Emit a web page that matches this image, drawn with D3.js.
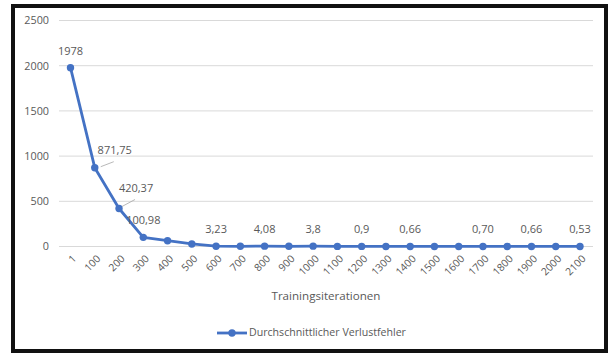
<!DOCTYPE html>
<html><head><meta charset="utf-8">
<script src="https://cdn.jsdelivr.net/npm/d3@7"></script>
<style>
html,body{margin:0;padding:0;background:#fff;}
svg{display:block;}
text{font-family:"Open Sans","Noto Sans",sans-serif;fill:#595959;}
</style></head>
<body>
<svg id="c" width="608" height="353"></svg>
<script>
const categories = ["1","100","200","300","400","500","600","700","800","900","1000","1100","1200","1300","1400","1500","1600","1700","1800","1900","2000","2100"];
const values = [1978, 871.75, 420.37, 100.98, 64, 28, 3.23, 2, 4.08, 2, 3.8, 1, 0.9, 0.8, 0.66, 0.7, 0.7, 0.70, 0.68, 0.66, 0.6, 0.53];
const labels = ["1978","871,75","420,37","100,98",null,null,"3,23",null,"4,08",null,"3,8",null,"0,9",null,"0,66",null,null,"0,70",null,"0,66",null,"0,53"];
const yTicks = [0, 500, 1000, 1500, 2000, 2500];
const seriesName = "Durchschnittlicher Verlustfehler";
const xTitle = "Trainingsiterationen";

const svg = d3.select("#c");
const blue = "#4472C4";

// frame
svg.append("rect").attr("x",13).attr("y",6).attr("width",593).attr("height",345)
  .attr("fill","none").attr("stroke","#111").attr("stroke-width",4);

const x = d3.scalePoint().domain(categories).range([70.5, 580]);
const y = d3.scaleLinear().domain([0, 2500]).range([246.5, 20.5]);
const gx0 = 59, gx1 = 593;

// gridlines
svg.append("g").selectAll("line").data(yTicks).join("line")
  .attr("x1",gx0).attr("x2",gx1).attr("y1",d=>y(d)).attr("y2",d=>y(d))
  .attr("stroke","#d9d9d9").attr("stroke-width",1);

// y axis labels
const yAxis = d3.axisLeft(y).tickValues(yTicks).tickSize(0).tickPadding(0).tickFormat(d3.format("d"));
const ya = svg.append("g").attr("transform",`translate(${gx0-10},0)`).call(yAxis);
ya.select(".domain").remove();
ya.selectAll("text").attr("font-size",10.8).style("font-family",'"Open Sans","Noto Sans",sans-serif').attr("fill","#595959");

// x axis labels
const xAxis = d3.axisBottom(x).tickSize(0).tickPadding(0);
const xa = svg.append("g").attr("transform",`translate(0,${y(0)})`).call(xAxis);
xa.select(".domain").remove();
xa.selectAll("text")
  .attr("font-size",10.3)
  .style("font-family",'"Open Sans","Noto Sans",sans-serif')
  .attr("fill","#595959")
  .attr("text-anchor","end")
  .attr("dy",null).attr("y",null)
  .attr("transform","translate(4,11) rotate(-45)")
  .attr("dominant-baseline","middle");

// x title
svg.append("text").attr("x",(gx0+gx1)/2).attr("y",297).attr("text-anchor","middle")
  .attr("dominant-baseline","middle").attr("font-size",11.6).text(xTitle);

// line
const data = categories.map((c,i)=>({c, v: values[i], l: labels[i], i}));
svg.append("path").datum(data)
  .attr("d", d3.line().x(d=>x(d.c)).y(d=>y(d.v)))
  .attr("fill","none").attr("stroke",blue).attr("stroke-width",2.8).attr("stroke-linejoin","round");
svg.append("g").selectAll("circle").data(data).join("circle")
  .attr("cx",d=>x(d.c)).attr("cy",d=>y(d.v)).attr("r",3.7).attr("fill",blue);

// data labels
const special = {1:{dx:20,dy:-17,lead:[[6,-1],[19,-6]]}, 2:{dx:17,dy:-19,lead:[[3,-2],[16,-9]]}};
const lg = svg.append("g");
data.filter(d=>d.l).forEach(d=>{
  const px = x(d.c), py = y(d.v);
  const s = special[d.i];
  let tx = px, ty = py - 16;
  if (s) {
    tx = px + s.dx; ty = py + s.dy;
    lg.append("line").attr("x1",px+s.lead[0][0]).attr("y1",py+s.lead[0][1])
      .attr("x2",px+s.lead[1][0]).attr("y2",py+s.lead[1][1])
      .attr("stroke","#a6a6a6").attr("stroke-width",0.8);
  }
  lg.append("text").attr("x",tx).attr("y",ty).attr("text-anchor","middle")
    .attr("dominant-baseline","middle").attr("font-size",11).text(d.l);
});

// legend
const lgX = 217, lgY = 333;
svg.append("line").attr("x1",lgX).attr("x2",lgX+30).attr("y1",lgY).attr("y2",lgY)
  .attr("stroke",blue).attr("stroke-width",2.8);
svg.append("circle").attr("cx",lgX+15).attr("cy",lgY).attr("r",3.7).attr("fill",blue);
svg.append("text").attr("x",lgX+32).attr("y",lgY).attr("dominant-baseline","middle")
  .attr("font-size",10.6).text(seriesName);
</script>
</body></html>
